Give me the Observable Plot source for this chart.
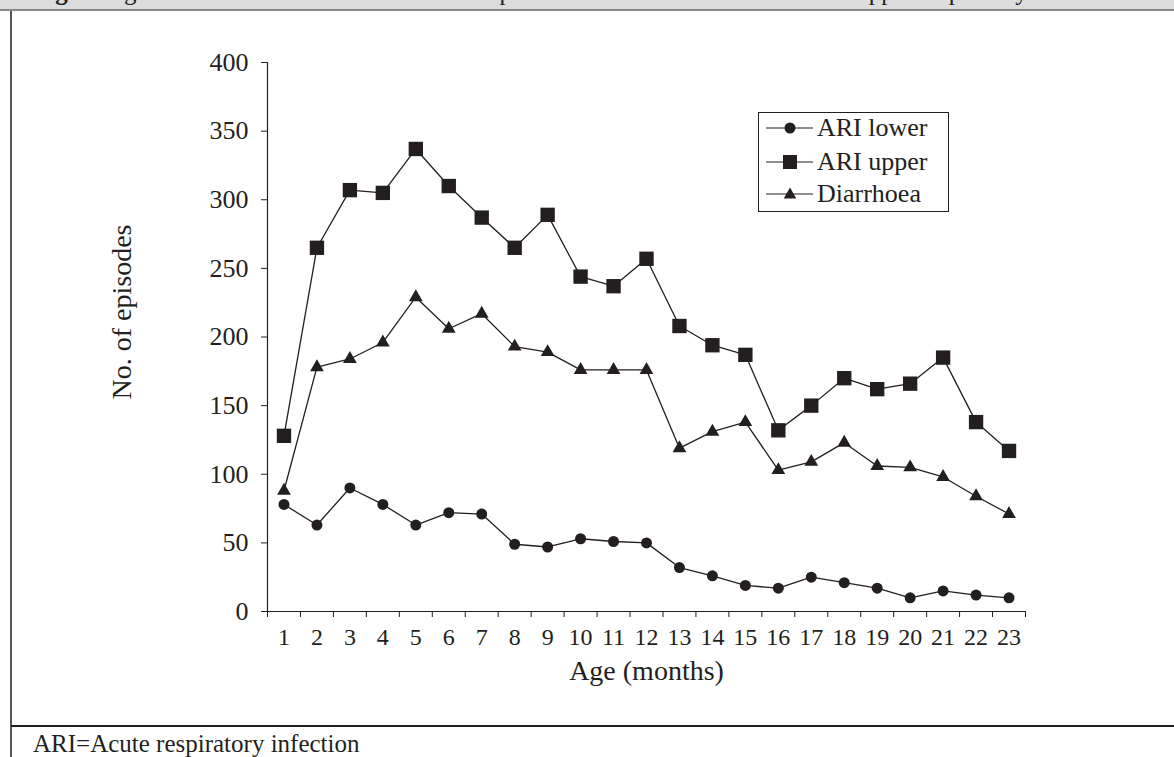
<!DOCTYPE html>
<html>
<head>
<meta charset="utf-8">
<script src="https://cdn.jsdelivr.net/npm/d3@7"></script>
<script src="https://cdn.jsdelivr.net/npm/@observablehq/plot@0.6"></script>
<style>
  html, body { margin: 0; padding: 0; background: #fff; }
  #wrap { position: relative; width: 1174px; height: 757px; overflow: hidden; font-family: "Liberation Serif", serif; color: #231f20; }
  #chart { position: absolute; left: 0; top: 0; }
  #band { position: absolute; left: 0; top: 0; width: 1174px; height: 9px; background: #dcdcdc; overflow: hidden; }
  #band .t { position: absolute; left: 33px; top: -21px; font-size: 25px; line-height: 25px; white-space: nowrap; color: #231f20; }
  #bandline { position: absolute; left: 0; top: 9px; width: 1174px; height: 2px; background: #8a8a8a; }
  #leftline { position: absolute; left: 10px; top: 11px; width: 1.5px; height: 746px; background: #555; }
  #sep { position: absolute; left: 11px; top: 725px; width: 1163px; height: 1.5px; background: #231f20; }
  #foot { position: absolute; left: 33px; top: 731px; font-size: 25px; line-height: 25px; white-space: nowrap; }
  #legend { position: absolute; left: 758px; top: 112px; width: 189px; height: 98px; border: 1px solid #231f20; background: #fff; }
  #legend .row { position: absolute; left: 0; height: 30px; width: 189px; }
  #legend .row svg { position: absolute; left: 0; top: 0; }
  #legend .row span { position: absolute; left: 58px; top: 1px; font-size: 26px; line-height: 28px; white-space: nowrap; }
</style>
</head>
<body>
<div id="wrap">
  <div id="chart"></div>
  <div id="band"><div class="t"><b>Fig. 1:</b> Age-related distribution of number of episodes of diarrhoea and lower and upper respiratory infections</div></div>
  <div id="bandline"></div>
  <div id="leftline"></div>
  <div id="sep"></div>
  <div id="foot">ARI=Acute respiratory infection</div>
  <div id="legend"></div>
</div>
<script>
// ---- data ----
const months = [1,2,3,4,5,6,7,8,9,10,11,12,13,14,15,16,17,18,19,20,21,22,23];
const ariLower = [78, 63, 90, 78, 63, 72, 71, 49, 47, 53, 51, 50, 32, 26, 19, 17, 25, 21, 17, 10, 15, 12, 10];
const ariUpper = [128, 265, 307, 305, 337, 310, 287, 265, 289, 244, 237, 257, 208, 194, 187, 132, 150, 170, 162, 166, 185, 138, 117];
const diarrhoea = [88, 178, 184, 196, 229, 206, 217, 193, 189, 176, 176, 176, 119, 131, 138, 103, 109, 123, 106, 105, 98, 84, 71];
const seriesNames = ["ARI lower", "ARI upper", "Diarrhoea"];
const yTicks = [0, 50, 100, 150, 200, 250, 300, 350, 400];
const xLabel = "Age (months)";
const yLabel = "No. of episodes";

const ink = "#231f20";
const rows = (vals) => months.map((m, i) => ({month: m, value: vals[i]}));
const lower = rows(ariLower), upper = rows(ariUpper), diar = rows(diarrhoea);
const bounds = months.map(m => m - 0.5).concat([months[months.length - 1] + 0.5]);

const plot = Plot.plot({
  width: 1174,
  height: 700,
  marginLeft: 267,
  marginRight: 149,
  marginTop: 62,
  marginBottom: 89,
  style: {background: "transparent", fontFamily: "Liberation Serif", color: ink, fontSize: "23px"},
  x: {domain: [bounds[0], bounds[bounds.length - 1]]},
  y: {domain: [0, 400]},
  marks: [
    Plot.axisY({ticks: yTicks, tickSize: 6, tickPadding: 13, fontSize: 26, label: null, stroke: ink}),
    Plot.axisX({ticks: bounds, tickSize: 6, tickFormat: () => "", label: null, stroke: ink}),
    Plot.axisX({ticks: months, tickSize: 0, tickPadding: 16, tickFormat: d => String(d), fontSize: 24, label: null}),
    Plot.ruleX([bounds[0]], {stroke: ink, strokeWidth: 1.2}),
    Plot.ruleY([0], {stroke: ink, strokeWidth: 1.2}),
    Plot.line(upper, {x: "month", y: "value", stroke: ink, strokeWidth: 1.3}),
    Plot.line(diar, {x: "month", y: "value", stroke: ink, strokeWidth: 1.3}),
    Plot.line(lower, {x: "month", y: "value", stroke: ink, strokeWidth: 1.3}),
    Plot.dot(upper, {x: "month", y: "value", symbol: "square", r: 8.1, fill: ink, stroke: "none"}),
    Plot.dot(diar, {x: "month", y: "value", symbol: "triangle", r: 5.1, fill: ink, stroke: "none"}),
    Plot.dot(lower, {x: "month", y: "value", symbol: "circle", r: 5.5, fill: ink, stroke: "none"}),
    Plot.text([xLabel], {frameAnchor: "bottom", dy: 68, fontSize: 28, fill: ink}),
    Plot.text([yLabel], {frameAnchor: "left", textAnchor: "middle", dx: -145, dy: -25, rotate: -90, fontSize: 28, fill: ink})
  ]
});
document.getElementById("chart").appendChild(plot);

// ---- legend (HTML) ----
const legend = document.getElementById("legend");
const symbols = ["circle", "square", "triangle"];
const tops = [0, 34, 66];
seriesNames.forEach((name, i) => {
  const row = document.createElement("div");
  row.className = "row";
  row.style.top = tops[i] + "px";
  let marker = "";
  if (symbols[i] === "circle") marker = `<circle cx="31" cy="15" r="5.5" fill="${ink}"/>`;
  else if (symbols[i] === "square") marker = `<rect x="24" y="8" width="14" height="14" fill="${ink}"/>`;
  else marker = `<path d="M31,8.5 L37.3,19.5 L24.7,19.5 Z" fill="${ink}"/>`;
  row.innerHTML = `<svg width="56" height="30"><line x1="7" x2="54" y1="15" y2="15" stroke="${ink}" stroke-width="1.2"/>${marker}</svg><span>${name}</span>`;
  legend.appendChild(row);
});
</script>
</body>
</html>
